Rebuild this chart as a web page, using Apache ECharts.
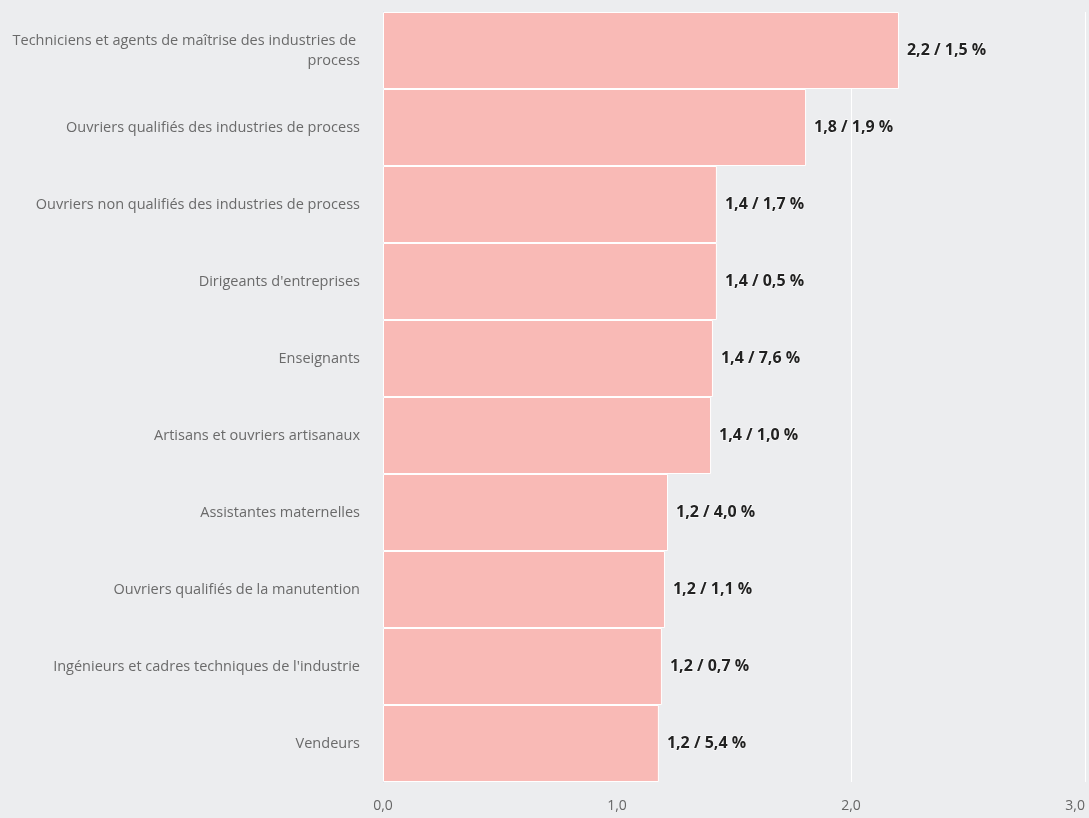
<!DOCTYPE html>
<html>
<head>
<meta charset="utf-8">
<script src="https://cdn.jsdelivr.net/npm/echarts@6/dist/echarts.min.js"></script>
<style>
html,body{margin:0;padding:0;background:#ecedef;overflow:hidden;}
#chart{width:1089px;height:818px;}
</style>
</head>
<body>
<div id="chart"></div>
<script>
const categories = [
  "Techniciens et agents de maîtrise des industries de process",
  "Ouvriers qualifiés des industries de process",
  "Ouvriers non qualifiés des industries de process",
  "Dirigeants d'entreprises",
  "Enseignants",
  "Artisans et ouvriers artisanaux",
  "Assistantes maternelles",
  "Ouvriers qualifiés de la manutention",
  "Ingénieurs et cadres techniques de l'industrie",
  "Vendeurs"
];
const values = [2.205, 1.808, 1.427, 1.427, 1.410, 1.402, 1.218, 1.205, 1.192, 1.179];
const shares = ["1,5", "1,9", "1,7", "0,5", "7,6", "1,0", "4,0", "1,1", "0,7", "5,4"];
const xTicks = [0, 1, 2, 3];

const chart = echarts.init(document.getElementById('chart'));
chart.setOption({
  backgroundColor: '#ecedef',
  animation: false,
  grid: {left: 383, right: 4, top: 12, bottom: 36, containLabel: false, outerBoundsMode: 'none'},
  xAxis: {
    type: 'value', min: xTicks[0], max: xTicks[xTicks.length - 1], interval: 1,
    axisLine: {show: false}, axisTick: {show: false},
    splitLine: {show: true, lineStyle: {color: '#ffffff', width: 1}},
    axisLabel: {
      color: '#666666', fontFamily: 'Open Sans', fontSize: 14, margin: 17,
      hideOverlap: false, alignMaxLabel: 'right',
      formatter: v => v.toFixed(1).replace('.', ',')
    }
  },
  yAxis: {
    type: 'category', inverse: true, data: categories,
    axisLine: {show: true, lineStyle: {color: '#ccd6eb', width: 1}},
    axisTick: {show: false},
    axisLabel: {
      color: '#6a6a6a', fontFamily: 'Open Sans', fontSize: 14.5, margin: 23,
      width: 360, overflow: 'break', align: 'right', lineHeight: 20
    }
  },
  series: [{
    type: 'bar',
    data: values,
    barCategoryGap: '0%',
    itemStyle: {color: '#f9bab6', borderColor: '#ffffff', borderWidth: 1},
    label: {
      show: true, position: 'right', distance: 8,
      color: '#222222', fontFamily: 'Open Sans', fontSize: 16, fontWeight: 'bold',
      textBorderColor: '#ffffff', textBorderWidth: 1,
      formatter: p => p.value.toFixed(1).replace('.', ',') + ' / ' + shares[p.dataIndex] + ' %'
    }
  }]
});
</script>
</body>
</html>
